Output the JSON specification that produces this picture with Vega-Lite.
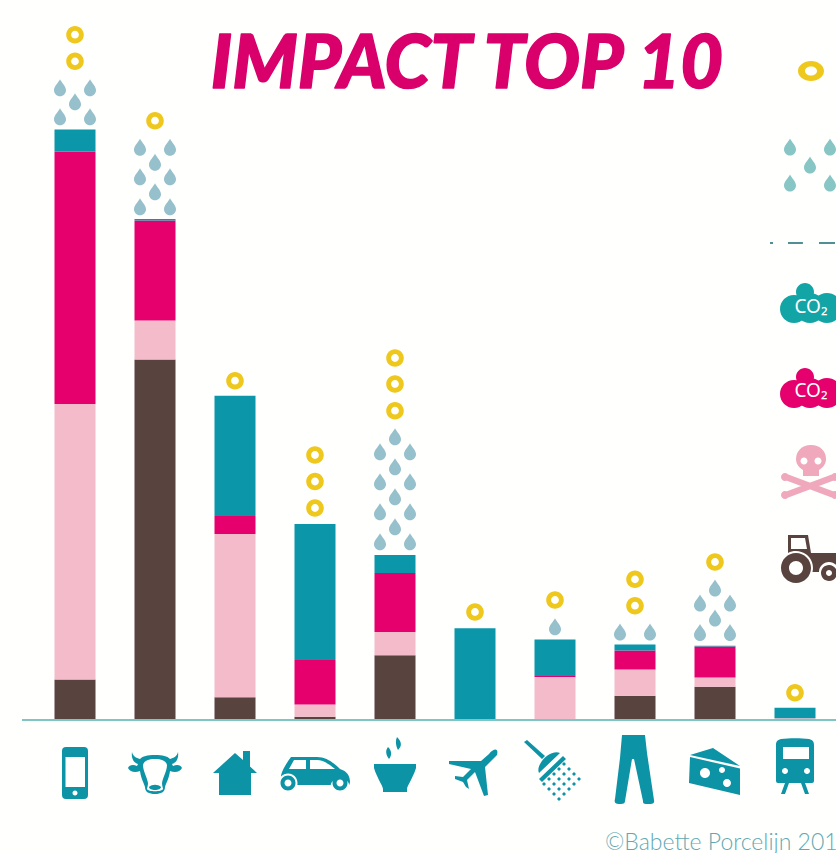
{
"$schema":"https://vega.github.io/schema/vega-lite/v6.json",
"width":836,"height":853,"padding":0,"autosize":{"type":"none"},
"background":"#fffffe",
"config":{"view":{"stroke":null}},
"datasets":{
"bars":[
{"product":"phone","x":1,"impact":"land","layer":1,"value":40.5},{"product":"phone","x":1,"impact":"toxic","layer":2,"value":275.5},{"product":"phone","x":1,"impact":"co2a","layer":3,"value":252.5},{"product":"phone","x":1,"impact":"co2b","layer":4,"value":22},
{"product":"cow","x":2,"impact":"land","layer":1,"value":360.5},{"product":"cow","x":2,"impact":"toxic","layer":2,"value":39},{"product":"cow","x":2,"impact":"co2a","layer":3,"value":100},{"product":"cow","x":2,"impact":"co2b","layer":4,"value":1.5},
{"product":"house","x":3,"impact":"land","layer":1,"value":22.7},{"product":"house","x":3,"impact":"toxic","layer":2,"value":163.3},{"product":"house","x":3,"impact":"co2a","layer":3,"value":18},{"product":"house","x":3,"impact":"co2b","layer":4,"value":120.3},
{"product":"car","x":4,"impact":"land","layer":1,"value":3.3},{"product":"car","x":4,"impact":"toxic","layer":2,"value":12.2},{"product":"car","x":4,"impact":"co2a","layer":3,"value":44.5},{"product":"car","x":4,"impact":"co2b","layer":4,"value":136},
{"product":"bowl","x":5,"impact":"land","layer":1,"value":64.7},{"product":"bowl","x":5,"impact":"toxic","layer":2,"value":23.3},{"product":"bowl","x":5,"impact":"co2a","layer":3,"value":59},{"product":"bowl","x":5,"impact":"co2b","layer":4,"value":18},
{"product":"plane","x":6,"impact":"land","layer":1,"value":0.7},{"product":"plane","x":6,"impact":"co2b","layer":4,"value":91},
{"product":"shower","x":7,"impact":"land","layer":1,"value":1},{"product":"shower","x":7,"impact":"toxic","layer":2,"value":42},{"product":"shower","x":7,"impact":"co2a","layer":3,"value":1},{"product":"shower","x":7,"impact":"co2b","layer":4,"value":36.5},
{"product":"jeans","x":8,"impact":"land","layer":1,"value":24.3},{"product":"jeans","x":8,"impact":"toxic","layer":2,"value":26.2},{"product":"jeans","x":8,"impact":"co2a","layer":3,"value":19},{"product":"jeans","x":8,"impact":"co2b","layer":4,"value":6},
{"product":"cheese","x":9,"impact":"land","layer":1,"value":33.3},{"product":"cheese","x":9,"impact":"toxic","layer":2,"value":9.2},{"product":"cheese","x":9,"impact":"co2a","layer":3,"value":31},{"product":"cheese","x":9,"impact":"co2b","layer":4,"value":0.7},
{"product":"train","x":10,"impact":"toxic","layer":2,"value":1.7},{"product":"train","x":10,"impact":"co2b","layer":4,"value":10.6}
],
"symbols":[
{"symbol":"ring","kind":"ring","x":1,"y":685.3},{"symbol":"ring","kind":"ring","x":1,"y":658.7},
{"symbol":"ring","kind":"ring","x":2,"y":599.3},{"symbol":"ring","kind":"ring","x":3,"y":339.3},
{"symbol":"ring","kind":"ring","x":4,"y":265},{"symbol":"ring","kind":"ring","x":4,"y":238.5},{"symbol":"ring","kind":"ring","x":4,"y":212},
{"symbol":"ring","kind":"ring","x":5,"y":362},{"symbol":"ring","kind":"ring","x":5,"y":336},{"symbol":"ring","kind":"ring","x":5,"y":309.3},
{"symbol":"ring","kind":"ring","x":6,"y":108},{"symbol":"ring","kind":"ring","x":7,"y":120},
{"symbol":"ring","kind":"ring","x":8,"y":140.7},{"symbol":"ring","kind":"ring","x":8,"y":114.3},
{"symbol":"ring","kind":"ring","x":9,"y":158},{"symbol":"ring","kind":"ring","x":10,"y":27.3},
{"symbol":"ringKey","kind":"ring","x":10.2,"y":649},
{"symbol":"drop","kind":"water","x":0.8125,"y":632.3},{"symbol":"drop","kind":"water","x":1.1875,"y":632.3},{"symbol":"drop","kind":"water","x":1,"y":618.3},{"symbol":"drop","kind":"water","x":0.8125,"y":603.3},{"symbol":"drop","kind":"water","x":1.1875,"y":603.3},
{"symbol":"drop","kind":"water","x":1.8125,"y":572.7},{"symbol":"drop","kind":"water","x":2.1875,"y":572.7},{"symbol":"drop","kind":"water","x":2,"y":557.7},{"symbol":"drop","kind":"water","x":1.8125,"y":543.3},{"symbol":"drop","kind":"water","x":2.1875,"y":543.3},{"symbol":"drop","kind":"water","x":2,"y":528.3},{"symbol":"drop","kind":"water","x":1.8125,"y":513.3},{"symbol":"drop","kind":"water","x":2.1875,"y":513.3},
{"symbol":"drop","kind":"water","x":5,"y":283.3},{"symbol":"drop","kind":"water","x":4.8125,"y":268.3},{"symbol":"drop","kind":"water","x":5.1875,"y":268.3},{"symbol":"drop","kind":"water","x":5,"y":253.3},{"symbol":"drop","kind":"water","x":4.8125,"y":238.3},{"symbol":"drop","kind":"water","x":5.1875,"y":238.3},{"symbol":"drop","kind":"water","x":5,"y":223.3},{"symbol":"drop","kind":"water","x":4.8125,"y":208.3},{"symbol":"drop","kind":"water","x":5.1875,"y":208.3},{"symbol":"drop","kind":"water","x":5,"y":193.3},{"symbol":"drop","kind":"water","x":4.8125,"y":178.3},{"symbol":"drop","kind":"water","x":5.1875,"y":178.3},
{"symbol":"drop","kind":"water","x":7,"y":93.3},
{"symbol":"drop","kind":"water","x":7.8125,"y":88},{"symbol":"drop","kind":"water","x":8.1875,"y":88},
{"symbol":"drop","kind":"water","x":9,"y":132},{"symbol":"drop","kind":"water","x":8.8125,"y":117},{"symbol":"drop","kind":"water","x":9.1875,"y":117},{"symbol":"drop","kind":"water","x":9,"y":102},{"symbol":"drop","kind":"water","x":8.8125,"y":87.5},{"symbol":"drop","kind":"water","x":9.1875,"y":87.5},
{"symbol":"drop","kind":"waterKey","x":9.9375,"y":573},{"symbol":"drop","kind":"waterKey","x":10.4375,"y":573},{"symbol":"drop","kind":"waterKey","x":10.1875,"y":555},{"symbol":"drop","kind":"waterKey","x":9.9375,"y":537},{"symbol":"drop","kind":"waterKey","x":10.4375,"y":537},
{"symbol":"phone","kind":"icon","x":1,"y":-53},{"symbol":"cow","kind":"icon","x":2,"y":-53},{"symbol":"house","kind":"icon","x":3,"y":-53},{"symbol":"car","kind":"icon","x":4,"y":-53},{"symbol":"bowl","kind":"icon","x":5,"y":-53},{"symbol":"plane","kind":"icon","x":6,"y":-53},{"symbol":"shower","kind":"icon","x":7,"y":-53},{"symbol":"jeans","kind":"icon","x":8,"y":-53},{"symbol":"cheese","kind":"icon","x":9,"y":-53},{"symbol":"train","kind":"icon","x":10,"y":-53},
{"symbol":"cloud","kind":"cloudTeal","x":10.1375,"y":417},{"symbol":"cloud","kind":"co2a","x":10.1375,"y":332},
{"symbol":"skull","kind":"skull","x":10.2,"y":258},{"symbol":"tractor","kind":"land","x":10.1875,"y":162}
],
"rules":[
{"line":"base","x":0.3375,"x2":10.5125,"y":0},
{"line":"key","x":9.6875,"x2":9.725,"y":477},{"line":"key","x":9.9125,"x2":10.0988,"y":477},{"line":"key","x":10.3,"x2":10.5,"y":477}
]
},
"encoding":{
"x":{"field":"x","type":"quantitative","scale":{"domain":[0.0625,10.5125],"range":[0,836],"nice":false,"zero":false,"padding":0},"axis":null},
"y":{"field":"y","type":"quantitative","scale":{"domain":[-133,720],"range":[853,0],"nice":false,"zero":false},"axis":null}
},
"layer":[
{"data":{"name":"bars"},
 "mark":{"type":"bar","size":41,"orient":"vertical","cornerRadius":0},
 "encoding":{
  "y":{"field":"value","type":"quantitative","stack":"zero","scale":{"domain":[-133,720],"range":[853,0],"nice":false,"zero":false},"axis":null},
  "order":{"field":"layer","type":"quantitative"},
  "color":{"field":"impact","type":"nominal","legend":null,"scale":{"domain":["land","toxic","co2a","co2b","ring","water","waterKey","icon","cloudTeal","skull","base","key"],"range":["#59433f","#f4bccb","#e5006d","#0b96a9","#efc81e","#96c0cc","#88c6c6","#0d93a6","#13a5a5","#f0a8bd","#7fc6c3","#4f8f96"]}}
 }},
{"data":{"name":"rules"},
 "mark":{"type":"rule","strokeWidth":2},
 "encoding":{
  "x2":{"field":"x2"},
  "color":{"field":"line","type":"nominal","legend":null}
 }},
{"data":{"name":"symbols"},
 "mark":{"type":"point","filled":true,"size":4,"opacity":1,"strokeWidth":0},
 "encoding":{
  "color":{"field":"kind","type":"nominal","legend":null},
  "shape":{"field":"symbol","type":"nominal","legend":null,"scale":{
   "domain":["ring","ringKey","drop","phone","cow","house","car","bowl","plane","shower","jeans","cheese","train","cloud","skull","tractor"],
   "range":[
   "M-8.8 0 A8.8 8.8 0 1 1 8.8 0 A8.8 8.8 0 1 1 -8.8 0 Z M-3.9 0 A3.9 3.9 0 1 0 3.9 0 A3.9 3.9 0 1 0 -3.9 0 Z",
   "M-13 0 A13 10 0 1 1 13 0 A13 10 0 1 1 -13 0 Z M-6 0 A6 4.5 0 1 0 6 0 A6 4.5 0 1 0 -6 0 Z",
   "M0 -8.5 C2 -4.5 6 -1.5 6 2.5 A6 6 0 1 1 -6 2.5 C-6 -1.5 -2 -4.5 0 -8.5 Z",
   "M-9 -26 H9 Q13 -26 13 -22 V22 Q13 26 9 26 H-9 Q-13 26 -13 22 V-22 Q-13 -26 -9 -26 Z M-9.5 -16 V14 H10 V-16 Z M-2.5 20 A2.5 2.5 0 1 0 2.5 20 A2.5 2.5 0 1 0 -2.5 20 Z",
   "M0 -18 C8 -18 12 -17 15 -14 C19 -15 22 -17 23 -21 C24 -14 21 -10 17 -9 L18 -7 C22 -9 26 -8 27 -5 C25 -1 20 0 15 -2 C14 6 11 10 10 14 C10 19 6 21 0 21 C-6 21 -10 19 -10 14 C-11 10 -14 6 -15 -2 C-20 0 -25 -1 -27 -5 C-26 -8 -22 -9 -18 -7 L-17 -9 C-21 -10 -24 -14 -23 -21 C-22 -17 -19 -15 -15 -14 C-12 -17 -8 -18 0 -18 Z M0 -14 C-7 -14 -11 -12 -12 -8 C-12 -2 -8 4 -7 10 C-7 13 -8 15 -8 16 C-7 19 7 19 8 16 C8 15 7 13 7 10 C8 4 12 -2 12 -8 C11 -12 7 -14 0 -14 Z M-6 14 C-3 11 3 11 6 14 C6 18 -6 18 -6 14 Z",
   "M0 -20 L8 -13 V-22 H15 V-6.5 L22 0 H16 V22 H-16 V0 H-22 Z",
   "M-24 -16 H2 C12 -16 20 -9 25 -4 C32 -2 35 3 35 9 L34.3 12 A9.5 9.5 0 0 0 15.7 12 H-17.7 A9.5 9.5 0 0 0 -34 3.6 C-34 0 -30 -8 -24 -16 Z M-21 -13 L-26 -4 H-9 V-13 Z M-5 -13 V-4 H20 C14 -9 8 -13 2 -13 Z M-34.5 10 A7.5 7.5 0 1 1 -19.5 10 A7.5 7.5 0 1 1 -34.5 10 Z M-30.5 10 A3.5 3.5 0 1 0 -23.5 10 A3.5 3.5 0 1 0 -30.5 10 Z M17.5 10 A7.5 7.5 0 1 1 32.5 10 A7.5 7.5 0 1 1 17.5 10 Z M21.5 10 A3.5 3.5 0 1 0 28.5 10 A3.5 3.5 0 1 0 21.5 10 Z",
   "M-21 -9 H21 L21 -5 C18 5 12 13 12 16 V19 H-12 V16 C-12 13 -18 5 -21 -5 Z M2 -36 C7 -31 7 -27 3 -23 C1 -27 0 -32 2 -36 Z M-7 -26 C-3 -22 -3 -18 -6 -14 C-9 -18 -10 -22 -7 -26 Z",
   "M14 -19 C18 -24 24 -26 22 -18 L10 -6 L13 22 L9 23 L0 -1 L-8 7 L-6 16 L-9 14 L-12 9 L-20 6 L-20 3 L-12 4 L-4 -4 L-26 -9 L-26 -12 L6 -12 Z",
   "M-31 -31 L-28 -33 L-10 -17 L-13 -14 Z M5 -20 L-16 0 C-20 -8 -5 -24 5 -20 Z M8 -17 L11 -14 L-13 9 L-16 6 Z M9 -11 l2 2 l-2 2 l-2 -2 Z M4 -6 l2 2 l-2 2 l-2 -2 Z M-1 -1 l2 2 l-2 2 l-2 -2 Z M-6 4 l2 2 l-2 2 l-2 -2 Z M-11 9 l2 2 l-2 2 l-2 -2 Z M14 -6 l2 2 l-2 2 l-2 -2 Z M9 -1 l2 2 l-2 2 l-2 -2 Z M4 4 l2 2 l-2 2 l-2 -2 Z M-1 9 l2 2 l-2 2 l-2 -2 Z M-6 14 l2 2 l-2 2 l-2 -2 Z M19 -1 l2 2 l-2 2 l-2 -2 Z M14 4 l2 2 l-2 2 l-2 -2 Z M9 9 l2 2 l-2 2 l-2 -2 Z M4 14 l2 2 l-2 2 l-2 -2 Z M-1 19 l2 2 l-2 2 l-2 -2 Z M24 4 l2 2 l-2 2 l-2 -2 Z M19 9 l2 2 l-2 2 l-2 -2 Z M14 14 l2 2 l-2 2 l-2 -2 Z M9 19 l2 2 l-2 2 l-2 -2 Z M4 24 l2 2 l-2 2 l-2 -2 Z",
   "M-13 -38 H10 L12 -20 L19 27 C20 31 16 31 12 31 C8 31 8 30 8 28 L-1 -14 L-3 -14 L-10 28 C-10 31 -13 31 -16 31 C-20 31 -21 29 -20 26 L-15 -15 Z",
   "M-25 -18 L-2 -25 L25 -7 Z M-25 -16 L25 -4.5 V22 L-26 10 Z M-15 0 A5 5 0 1 0 -5 0 A5 5 0 1 0 -15 0 Z M4 -3 A3 3 0 1 0 10 -3 A3 3 0 1 0 4 -3 Z M8 10 A4 4 0 1 0 16 10 A4 4 0 1 0 8 10 Z",
   "M-14 -34 C-6 -35 6 -35 14 -34 C18 -33 19 -31 19 -28 V8 Q19 10 17 10 H-17 Q-19 10 -19 8 V-28 C-19 -31 -18 -33 -14 -34 Z M-12 -26 V-14 H14 V-26 Z M-13 -2 A3 3 0 1 0 -7 -2 A3 3 0 1 0 -13 -2 Z M9 -2 A3 3 0 1 0 15 -2 A3 3 0 1 0 9 -2 Z M-10 10 H-6 L-10 21 H-14 Z M6 10 H10 L14 21 H10 Z",
   "M-10 -11 A9 9 0 1 1 8 -11 A9 9 0 1 1 -10 -11 Z M-26 6 A14 14 0 1 1 2 6 A14 14 0 1 1 -26 6 Z M-11 5 A15 15 0 1 1 19 5 A15 15 0 1 1 -11 5 Z M6 5 A15 15 0 1 1 36 5 A15 15 0 1 1 6 5 Z",
   "M0 -17 C10 -17 15 -10 15 -3 C15 3 11 6 8 8 V14 H-8 V8 C-11 6 -15 3 -15 -3 C-15 -10 -10 -17 0 -17 Z M-10.5 -1 A3.5 3.5 0 1 0 -3.5 -1 A3.5 3.5 0 1 0 -10.5 -1 Z M3.5 -1 A3.5 3.5 0 1 0 10.5 -1 A3.5 3.5 0 1 0 3.5 -1 Z M-24 12 L24 30 L22 36 L-26 18 Z M22 12 L24 18 L-24 36 L-26 30 Z M-30 15 A4 4 0 1 1 -22 15 A4 4 0 1 1 -30 15 Z M-30 33 A4 4 0 1 1 -22 33 A4 4 0 1 1 -30 33 Z M20 15 A4 4 0 1 1 28 15 A4 4 0 1 1 20 15 Z M20 33 A4 4 0 1 1 28 33 A4 4 0 1 1 20 33 Z",
   "M-22 -23 H-2 L1 -5 H35 V14 H29 A10 10 0 0 0 9 14 H2.5 A17 17 0 0 0 -22 -5 Z M-19 -20 V-9 H-3 L-5 -20 Z M-29 10 A15 15 0 1 1 1 10 A15 15 0 1 1 -29 10 Z M-21 10 A7 7 0 1 0 -7 10 A7 7 0 1 0 -21 10 Z M11 15 A8 8 0 1 1 27 15 A8 8 0 1 1 11 15 Z M16 15 A3 3 0 1 0 22 15 A3 3 0 1 0 16 15 Z"
   ]}}
 }},
{"data":{"values":[{"label":"IMPACT TOP 10","x":5.9,"y":632}]},
 "mark":{"type":"text","align":"center","baseline":"alphabetic","font":"Lato","fontStyle":"italic","fontWeight":900,"fontSize":74,"color":"#d9006c","stroke":"#d9006c","strokeWidth":1.5,"strokeJoin":"round"},
 "encoding":{"text":{"field":"label"}}},
{"data":{"values":[{"label":"©Babette Porcelijn 2019","x":7.625,"y":-130}]},
 "mark":{"type":"text","align":"left","baseline":"alphabetic","font":"Lato","fontWeight":300,"fontSize":23,"color":"#5fa9b3"},
 "encoding":{"text":{"field":"label"}}},
{"data":{"values":[{"label":"CO₂","x":10.2,"y":407},{"label":"CO₂","x":10.2,"y":323}]},
 "mark":{"type":"text","align":"center","baseline":"alphabetic","font":"Noto Sans","fontSize":19,"color":"#ffffff"},
 "encoding":{"text":{"field":"label"}}}
]
}
